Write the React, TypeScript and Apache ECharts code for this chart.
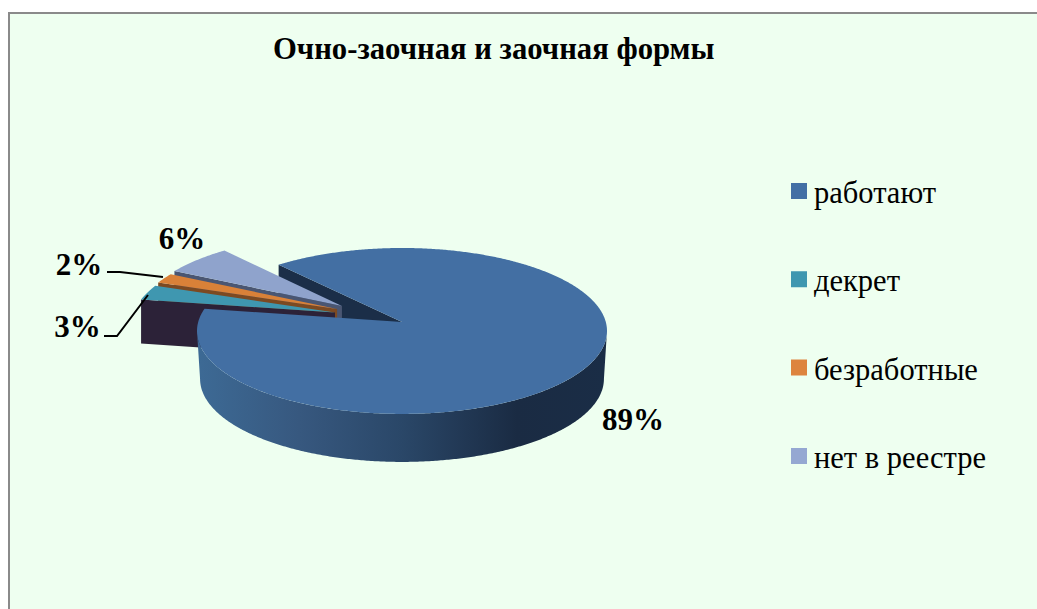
import React, { useEffect, useRef } from "react";
import * as echarts from "echarts";

const titleText = "Очно-заочная и заочная формы";
const categories = ["работают", "декрет", "безработные", "нет в реестре"];
const values = [89, 3, 2, 6];
const topColors = ["#436fa3", "#3f97b0", "#d98138", "#8fa3cc"];
const legendColors = ["#426fa5", "#3f97b0", "#dd843e", "#95a8d2"];
const wallColors = ["#1b2e48", "#2c2238", "#7c4a22", "#4a5672"];

const FONT = "'Liberation Serif', 'Times New Roman', serif";
const START_ANGLE = -40.9;
const CX = 402, CY = 322, RX = 203.8, RY = 82, K = 0.108;

// slice offsets in the pie's plane, radius factor and wall height
const explode = [
  { ox: 0, oy: 0, r: 1, depth: 48 },
  { ox: -0.333, oy: -0.117, r: 1, depth: 44 },
  { ox: -0.324, oy: -0.16, r: 1, depth: 44 },
  { ox: -0.301, oy: -0.199, r: 1.01, depth: 44 },
];

const project = (u: number, v: number): number[] => {
  const w = 1 - K * v;
  return [CX + (RX * u) / w, CY + (RY * v) / w];
};
const startOf = (i: number) => {
  const total = values.reduce((a, b) => a + b, 0);
  return START_ANGLE + (values.slice(0, i).reduce((a, b) => a + b, 0) / total) * 360;
};
const sweepOf = (v: number) => (v / values.reduce((a, b) => a + b, 0)) * 360;
const rim = (i: number, deg: number) => {
  const e = explode[i];
  const t = (deg * Math.PI) / 180;
  return project(e.ox + e.r * Math.sin(t), e.oy - e.r * Math.cos(t));
};
const apex = (i: number) => project(explode[i].ox, explode[i].oy);
const arc = (i: number, a: number, b: number) => {
  const n = Math.max(2, Math.ceil(Math.abs(b - a) * 2));
  const pts: number[][] = [];
  for (let j = 0; j <= n; j++) pts.push(rim(i, a + ((b - a) * j) / n));
  return pts;
};
const drop = (p: number[], depth: number, shrink = 1) => [CX + (p[0] - CX) * shrink, p[1] + depth];

const poly = (points: number[][], fill: any) => ({
  type: "polygon",
  shape: { points },
  style: { fill },
});

// wall inside the main slice's notch (painted behind the detached slices)
const renderNotch = () => {
  const a = startOf(0);
  const p0 = apex(0);
  const p1 = rim(0, a);
  return poly([p0, p1, drop(p1, explode[0].depth), drop(p0, explode[0].depth)], wallColors[0]);
};

const renderMain = (_: any, api: any) => {
  const a = startOf(0);
  const b = a + sweepOf(api.value(0));
  const gradient = {
    type: "linear",
    x: 0, y: 0, x2: 1, y2: 0,
    colorStops: [
      { offset: 0, color: "#3d6a95" },
      { offset: 0.25, color: "#37587f" },
      { offset: 0.5, color: "#2a4768" },
      { offset: 0.78, color: "#1a2b43" },
      { offset: 1, color: "#1a2d46" },
    ],
  };
  const front = arc(0, 96.2, 263.8);
  const wall = [...front, ...front.slice().reverse().map((p) => drop(p, explode[0].depth, 0.985))];
  return {
    type: "group",
    children: [poly(wall, gradient), poly([apex(0), ...arc(0, a, b)], topColors[0])],
  };
};

const renderSmall = (i: number) => (_: any, api: any) => {
  const a = startOf(i);
  const b = a + sweepOf(api.value(0));
  const p0 = apex(i);
  const p1 = rim(i, a);
  const d = explode[i].depth;
  return {
    type: "group",
    children: [
      poly([p0, p1, drop(p1, d), drop(p0, d)], wallColors[i]),
      poly([p0, ...arc(i, a, b)], topColors[i]),
    ],
  };
};

const percentLabel = (i: number, x: number, y: number) => ({
  type: "text",
  x,
  y,
  z: 20,
  style: {
    text: `${values[i]}%`,
    font: `bold 31px ${FONT}`,
    fill: "#000",
    textAlign: "center",
    textVerticalAlign: "middle",
  },
});

export default function App() {
  const ref = useRef<HTMLDivElement>(null);
  useEffect(() => {
    const chart = echarts.init(ref.current!, undefined, { renderer: "svg" });
    const seriesBase = { type: "custom", coordinateSystem: "none", silent: true };
    chart.setOption({
      animation: false,
      backgroundColor: "#ffffff",
      title: {
        text: titleText,
        left: 273,
        top: 33,
        padding: 0,
        textStyle: { fontFamily: FONT, fontWeight: "bold", fontSize: 30.7, color: "#000" },
      },
      legend: {
        data: categories,
        orient: "vertical",
        left: 791,
        top: 177.5,
        itemWidth: 16,
        itemHeight: 20,
        itemGap: 57.3,
        padding: 0,
        icon: "path://M0 0H16V16H0ZM0 20Z",
        selectedMode: false,
        textStyle: {
          fontFamily: FONT,
          fontSize: 30.5,
          color: "#000",
          padding: [0, 0, 0, 2],
        },
      },
      graphic: [
        {
          type: "rect",
          z: -10,
          silent: true,
          shape: { x: 9, y: 13, width: 1040, height: 620 },
          style: { fill: "#eefff0", stroke: "#8a8a8a", lineWidth: 2 },
        },
        percentLabel(0, 633, 419),
        percentLabel(1, 77.5, 326),
        percentLabel(2, 79, 264),
        percentLabel(3, 182, 238),
        {
          type: "polyline",
          z: 20,
          shape: { points: [[107, 272], [120, 272], [163, 277]] },
          style: { stroke: "#000", lineWidth: 2, fill: "none" },
        },
        {
          type: "polyline",
          z: 20,
          shape: { points: [[104, 336], [117, 336], [148, 295]] },
          style: { stroke: "#000", lineWidth: 2, fill: "none" },
        },
      ],
      series: [
        { ...seriesBase, name: "notch", data: [[values[0]]], itemStyle: { color: wallColors[0] }, renderItem: renderNotch },
        { ...seriesBase, name: categories[3], data: [[values[3]]], itemStyle: { color: legendColors[3] }, renderItem: renderSmall(3) },
        { ...seriesBase, name: categories[2], data: [[values[2]]], itemStyle: { color: legendColors[2] }, renderItem: renderSmall(2) },
        { ...seriesBase, name: categories[1], data: [[values[1]]], itemStyle: { color: legendColors[1] }, renderItem: renderSmall(1) },
        { ...seriesBase, name: categories[0], data: [[values[0]]], itemStyle: { color: legendColors[0] }, renderItem: renderMain },
      ],
    });
    return () => chart.dispose();
  }, []);
  return <div ref={ref} style={{ position: "fixed", left: 0, top: 0, width: 1037, height: 609 }} />;
}
